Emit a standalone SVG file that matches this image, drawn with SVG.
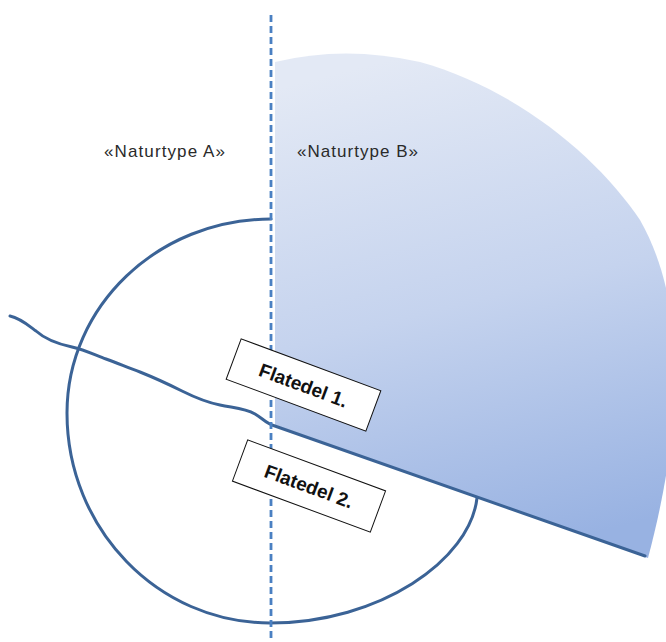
<svg xmlns="http://www.w3.org/2000/svg" width="666" height="642" viewBox="0 0 666 642">
<defs>
<linearGradient id="gB" x1="0.35" y1="0" x2="0.55" y2="1">
<stop offset="0" stop-color="#e3e9f5"/>
<stop offset="0.5" stop-color="#c5d3ee"/>
<stop offset="1" stop-color="#98b2e2"/>
</linearGradient>
</defs>
<style>
.ln{fill:none;stroke:#3b6396;stroke-width:3;stroke-linecap:round;stroke-linejoin:round}
.lbl{font-family:"Liberation Sans",Arial,sans-serif;font-size:17px;fill:#2a2a2a}
.box{fill:#fff;stroke:#111;stroke-width:1}
.bt{font-family:"Liberation Sans",Arial,sans-serif;font-size:19px;font-weight:bold;fill:#111}
</style>
<rect width="666" height="642" fill="#fff"/>
<g id="circle">
<path class="ln" d="M271,219 C158,219 67,306 67,413 C67,529 158,623 270,623 C380,623 470,560 477,498"/>
</g>
<g id="naturtypeB-area">
<path d="M275,62 Q345,45 420,62 C520,90 600,160 640,220 C680,290 690,400 648,558 L275,425 Z" fill="url(#gB)"/>
</g>
<g id="connectors">
<path class="ln" d="M10,316 C20,318 28,325 36,331 C46,340 58,344 72,347 C85,350 95,355 106,359 C120,364 128,368 140,372 C155,378 168,384 182,391 C194,397 205,402 220,405 C235,408 245,408 255,414 C262,418 266,423 272,425 L645,556"/>
<line x1="271" y1="15" x2="271" y2="642" stroke="#4a80c2" stroke-width="2.8" stroke-dasharray="7,4"/>
</g>
<g id="label-a">
<text class="lbl" x="104" y="157" textLength="121">«Naturtype A»</text>
</g>
<g id="label-b">
<text class="lbl" x="297" y="157" textLength="121">«Naturtype B»</text>
</g>
<g id="flatedel1" transform="translate(303.5,385) rotate(20.4)">
<rect class="box" x="-74.5" y="-21.5" width="149" height="43"/>
<text class="bt" x="0" y="7" text-anchor="middle">Flatedel 1.</text>
</g>
<g id="flatedel2" transform="translate(309,486) rotate(20.3)">
<rect class="box" x="-73.5" y="-22" width="147" height="44"/>
<text class="bt" x="0" y="7" text-anchor="middle">Flatedel 2.</text>
</g>
</svg>
